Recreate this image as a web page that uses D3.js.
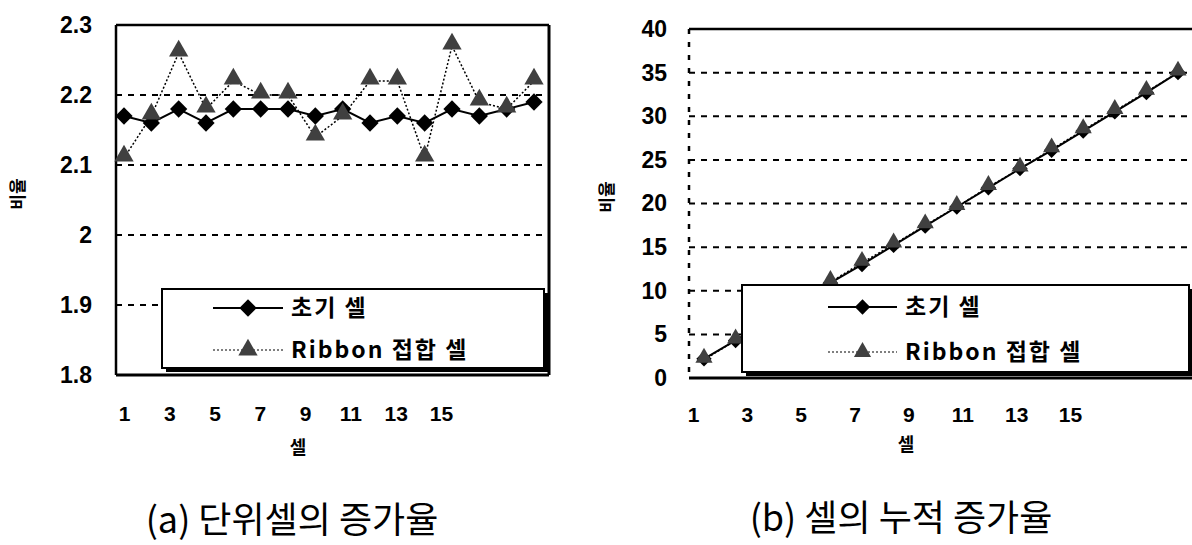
<!DOCTYPE html>
<html>
<head>
<meta charset="utf-8">
<script src="https://cdn.jsdelivr.net/npm/d3@7"></script>
<style>
  body { margin: 0; background: #fff; }
  svg { display: block; }
  .tick text { font-family: "Liberation Sans", Arial, sans-serif; font-weight: bold; }
</style>
</head>
<body>
<svg id="chart" width="1192" height="545"></svg>
<script>
// cells on x axis
const cells = d3.range(1, 17);
const xTickLabels = [1, 3, 5, 7, 9, 11, 13, 15];
const seriesNames = ['초기 셀', 'Ribbon 접합 셀'];

// (a) unit-cell increase rate
const unitInitial = [2.17, 2.16, 2.18, 2.16, 2.18, 2.18, 2.18, 2.17, 2.18, 2.16, 2.17, 2.16, 2.18, 2.17, 2.18, 2.19];
const unitRibbon  = [2.11, 2.17, 2.26, 2.18, 2.22, 2.20, 2.20, 2.14, 2.17, 2.22, 2.22, 2.11, 2.27, 2.19, 2.18, 2.22];
const unitTicks = [1.8, 1.9, 2, 2.1, 2.2, 2.3];

// (b) cumulative increase rate
const cumInitial = [2.2, 4.3, 6.5, 8.7, 10.9, 13.0, 15.2, 17.4, 19.6, 21.8, 24.0, 26.1, 28.3, 30.5, 32.7, 35.0];
const cumRibbon  = [2.1, 4.3, 6.6, 8.7, 11.0, 13.2, 15.3, 17.5, 19.6, 21.9, 24.0, 26.2, 28.4, 30.6, 32.8, 35.0];
const cumTicks = [0, 5, 10, 15, 20, 25, 30, 35, 40];

const svg = d3.select('#chart');
const kr = '"Noto Sans CJK KR", sans-serif';

function drawPanel(o) {
  const g = svg.append('g');
  const x = d3.scalePoint().domain(cells).range(o.pointRange);
  const xl = d3.scaleLinear().domain([1, 15]).range(o.labelRange);
  const y = d3.scaleLinear().domain(o.yDomain).range([o.bottom, o.top]);

  const diamond = d3.symbol().type(d3.symbolDiamond2).size(o.markSize)();
  const tri = d3.symbol().type(d3.symbolTriangle).size(o.markSize * 0.85)();

  // grid lines
  g.append('g')
    .selectAll('line')
    .data(o.yTicks.slice(1, -1))
    .join('line')
    .attr('x1', o.left).attr('x2', o.right)
    .attr('y1', d => y(d)).attr('y2', d => y(d))
    .attr('stroke', '#000')
    .attr('stroke-width', 2)
    .attr('stroke-dasharray', '6,6');

  // frame
  g.append('line').attr('x1', o.left).attr('x2', o.right).attr('y1', o.top).attr('y2', o.top)
    .attr('stroke', '#000').attr('stroke-width', 2.5);
  g.append('line').attr('x1', o.left).attr('x2', o.right).attr('y1', o.bottom).attr('y2', o.bottom)
    .attr('stroke', '#000').attr('stroke-width', 3);
  g.append('line').attr('x1', o.left).attr('x2', o.left).attr('y1', o.top).attr('y2', o.bottom)
    .attr('stroke', '#000').attr('stroke-width', 2.5)
    .attr('stroke-dasharray', o.dashedLeft ? '5,8' : null);
  if (o.rightBorder) {
    g.append('line').attr('x1', o.right).attr('x2', o.right).attr('y1', o.top).attr('y2', o.bottom)
      .attr('stroke', '#000').attr('stroke-width', 3);
  }

  // y axis labels
  g.append('g')
    .attr('transform', `translate(${o.left},0)`)
    .call(d3.axisLeft(y).tickValues(o.yTicks).tickSize(0).tickPadding(o.yPad)
      .tickFormat(d3.format(o.yFormat)))
    .call(a => a.select('.domain').remove())
    .selectAll('text')
    .attr('font-size', 23)
    .attr('fill', '#000');

  // x axis labels
  g.append('g')
    .attr('transform', `translate(0,${o.xLabelY})`)
    .call(d3.axisBottom(xl).tickValues(xTickLabels).tickSize(0).tickPadding(0))
    .call(a => a.select('.domain').remove())
    .selectAll('text')
    .attr('font-size', 21)
    .attr('dy', '0.35em')
    .attr('fill', '#000');

  // axis titles
  g.append('text')
    .attr('x', o.xTitle[0]).attr('y', o.xTitle[1])
    .attr('text-anchor', 'middle').attr('dy', '0.35em')
    .attr('font-family', kr)
    .attr('font-weight', 'bold').attr('font-size', 18)
    .text('셀');
  g.append('text')
    .attr('transform', `translate(${o.yTitle[0]},${o.yTitle[1]}) rotate(-90)`)
    .attr('text-anchor', 'middle').attr('dy', '0.35em')
    .attr('font-family', kr)
    .attr('font-weight', 'bold').attr('font-size', 17)
    .text('비율');

  // lines
  const line = d3.line().x((d, i) => x(cells[i])).y(d => y(d));
  g.append('path').datum(o.s1).attr('d', line)
    .attr('fill', 'none').attr('stroke', '#000').attr('stroke-width', 2);
  g.append('path').datum(o.s2).attr('d', line)
    .attr('fill', 'none').attr('stroke', '#000').attr('stroke-width', 1.5)
    .attr('stroke-dasharray', '2,2');

  g.append('g').selectAll('path')
    .data(o.s1)
    .join('path')
    .attr('transform', (d, i) => `translate(${x(cells[i])},${y(d)})`)
    .attr('d', diamond)
    .attr('fill', '#000');
  g.append('g').selectAll('path')
    .data(o.s2)
    .join('path')
    .attr('transform', (d, i) => `translate(${x(cells[i])},${y(d) - 2})`)
    .attr('d', tri)
    .attr('fill', '#404040');

  // legend with shadow
  const [lx, ly, lw, lh] = o.legend;
  g.append('rect').attr('x', lx + 4).attr('y', ly + 4).attr('width', lw).attr('height', lh).attr('fill', '#000');
  g.append('rect').attr('x', lx).attr('y', ly).attr('width', lw).attr('height', lh)
    .attr('fill', '#fff').attr('stroke', '#000').attr('stroke-width', 2);

  const rows = g.append('g').selectAll('g')
    .data(seriesNames)
    .join('g')
    .attr('transform', (d, i) => `translate(${o.legendLine[0]},${o.legendRows[i]})`);
  rows.append('line')
    .attr('x1', 0).attr('x2', o.legendLine[1])
    .attr('stroke', '#000')
    .attr('stroke-width', (d, i) => i ? 1.2 : 2)
    .attr('stroke-dasharray', (d, i) => i ? '2,2' : null);
  rows.append('path')
    .attr('transform', `translate(${o.legendLine[1] / 2},0)`)
    .attr('d', (d, i) => i ? tri : diamond)
    .attr('fill', (d, i) => i ? '#404040' : '#000');
  rows.append('text')
    .attr('x', o.legendLine[1] + 8)
    .attr('dy', '0.35em')
    .attr('font-family', kr)
    .attr('font-weight', 'bold')
    .attr('font-size', 23)
    .attr('letter-spacing', 2)
    .text(d => d);

  // caption
  g.append('text')
    .attr('x', o.caption[0]).attr('y', o.caption[1])
    .attr('text-anchor', 'middle').attr('dy', '0.35em')
    .attr('font-family', kr)
    .attr('font-size', 36)
    .text(o.captionText);
}

drawPanel({
  left: 116, right: 549, top: 25, bottom: 375,
  pointRange: [124, 534], labelRange: [124, 441],
  yDomain: [1.8, 2.3], yTicks: unitTicks, yFormat: '~g', yPad: 24,
  dashedLeft: false, rightBorder: true,
  xLabelY: 414, xTitle: [298, 448], yTitle: [18, 194],
  s1: unitInitial, s2: unitRibbon, markSize: 190,
  legend: [162, 289, 382, 79], legendLine: [213, 70], legendRows: [308, 350],
  caption: [292, 520], captionText: '(a) 단위셀의 증가율'
});

drawPanel({
  left: 689, right: 1196, top: 29, bottom: 378,
  pointRange: [704, 1178], labelRange: [693, 1070],
  yDomain: [0, 40], yTicks: cumTicks, yFormat: 'd', yPad: 22,
  dashedLeft: true, rightBorder: false,
  xLabelY: 415, xTitle: [906, 445], yTitle: [607, 197],
  s1: cumInitial, s2: cumRibbon, markSize: 150,
  legend: [742, 285, 447, 87], legendLine: [828, 69], legendRows: [307, 352],
  caption: [901, 518], captionText: '(b) 셀의 누적 증가율'
});
</script>
</body>
</html>
